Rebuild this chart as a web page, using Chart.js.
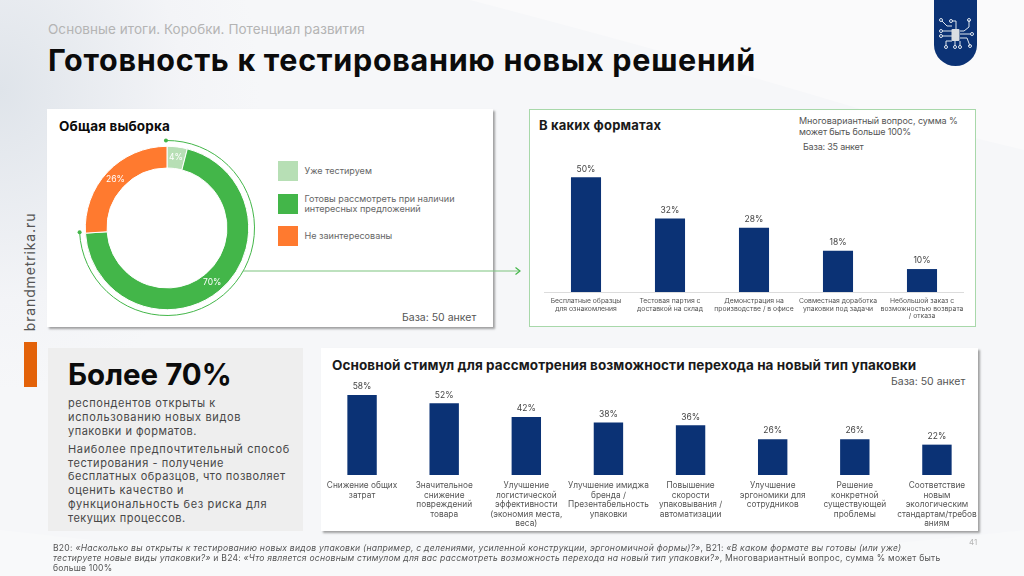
<!DOCTYPE html>
<html lang="ru">
<head>
<meta charset="utf-8">
<title>Готовность к тестированию новых решений</title>
<script src="https://cdn.jsdelivr.net/npm/chart.js@4"></script>
<style>
html, body { margin: 0; padding: 0; }
body {
    position: relative; width: 1024px; height: 576px; overflow: hidden;
    font-family: Inter, "Noto Sans", sans-serif; color: #444;
    background: radial-gradient(ellipse 260px 300px at 0 90px, #dfe4ea 0%, #f3f4f7 70%, #f6f7f9 100%);
}
.swoosh { position: absolute; left: 0; top: 0; }
.t { position: absolute; white-space: nowrap; transform: translateY(-50%); line-height: 1; }
.b { font-weight: 700; color: #0b0b0b; }
.panel { position: absolute; background: #fff; box-sizing: border-box; }
.shadow { box-shadow: 2px 2px 2px rgba(90,90,90,.55); }
canvas { position: absolute; }
.sw { position: absolute; left: 278px; width: 20px; height: 20px; }
.leg { font-size: 9.050px; color: #666; }
.tick { font-size: 11px; color: #474747; }
.note { font-size: 8.6px; color: #555; }
.note i { font-style: italic; }
</style>
</head>
<body>
<svg class="swoosh" width="1024" height="576">
    <path d="M470 0 Q700 60 880 115 L1024 150 L1024 0 Z" fill="#fafafb"/>
    <path d="M0 576 L0 530 Q500 590 1024 530 L1024 576 Z" fill="#f8f9fa"/>
</svg>

<div class="t" style="left:48px;top:30px;font-size:13.500px;color:#b4b4b4" data-w="317">Основные итоги. Коробки. Потенциал развития</div>
<div class="t b" style="left:48px;top:60px;font-size:30.500px" data-w="708">Готовность к тестированию новых решений</div>

<svg style="position:absolute;left:934px;top:0" width="43" height="66" viewBox="0 0 43 66">
    <path d="M0 0 H43 V45 A21.5 21 0 0 1 0 45 Z" fill="#0b3275"/>
    <g stroke="#dfe6ee" stroke-width="1" fill="none">
        <path d="M8 21 L13 26 H18 M8 31 H18 M8 36 H18 M12 46 V41 H18 M21 46 V41 M18 21 H22 V29 M35 20 V27 L30 31 H26 M26 34 H37 M26 38 H33 L36 46 M26 41 V46"/>
        <circle cx="7" cy="20" r="1.5"/><circle cx="7" cy="31" r="1.5"/><circle cx="7" cy="36" r="1.5"/>
        <circle cx="12" cy="47" r="1.5"/><circle cx="21" cy="47" r="1.5"/><circle cx="17" cy="21" r="1.5"/>
        <circle cx="35" cy="20" r="1.5"/><circle cx="38" cy="34" r="1.5"/><circle cx="36" cy="46" r="1.5"/><circle cx="26" cy="47" r="1.5"/>
    </g>
    <rect x="17.500" y="29" width="8" height="12" rx="1" fill="#d9dde2"/>
</svg>

<div class="t" style="left:30px;top:272px;font-size:14px;color:#555;transform:translate(-50%,-50%) rotate(-90deg)" data-w="119">brandmetrika.ru</div>
<div style="position:absolute;left:23.500px;top:342px;width:13px;height:45px;background:#e36209"></div>

<!-- панель 1 -->
<div class="panel shadow" style="left:47px;top:109px;width:446px;height:218px"></div>
<div class="t b" style="left:59px;top:127px;font-size:13.500px" data-w="111">Общая выборка</div>
<canvas id="donut" width="200" height="200" style="left:66.700px;top:127.700px;width:200px;height:200px"></canvas>
<div id="legend"></div>
<div class="t" style="left:402px;top:318px;font-size:10.500px;color:#555" data-w="74">База: 50 анкет</div>

<!-- панель 2 -->
<div class="panel" style="left:529px;top:109px;width:447px;height:218px;border:1px solid #a8d8aa"></div>
<div class="t b" style="left:539px;top:125px;font-size:13px;color:#1a1a1a" data-w="122">В каких форматах</div>
<div class="t" style="left:799px;top:120px;font-size:9px;color:#555" data-w="159">Многовариантный вопрос, сумма %</div>
<div class="t" style="left:799px;top:131px;font-size:9px;color:#555" data-w="112">может быть больше 100%</div>
<div class="t" style="left:803px;top:146px;font-size:9px;color:#555" data-w="61">База: 35 анкет</div>
<canvas id="formats" width="420" height="176" style="left:544px;top:150.300px;width:420px;height:176px"></canvas>

<!-- панель 3 -->
<div class="panel" style="left:48px;top:348px;width:255px;height:183px;background:#eeeeee"></div>
<div class="t b" style="left:68px;top:375px;font-size:29.500px" data-w="164">Более 70%</div>
<div class="t tick" style="left:68px;top:403.300px" data-w="148">респондентов открыты к</div>
<div class="t tick" style="left:68px;top:417.300px" data-w="173">использованию новых видов</div>
<div class="t tick" style="left:68px;top:431.300px" data-w="129">упаковки и форматов.</div>
<div class="t tick" style="left:68px;top:448.700px" data-w="222">Наиболее предпочтительный способ</div>
<div class="t tick" style="left:68px;top:462.500px" data-w="156">тестирования - получение</div>
<div class="t tick" style="left:68px;top:476.200px" data-w="218">бесплатных образцов, что позволяет</div>
<div class="t tick" style="left:68px;top:490px" data-w="116">оценить качество и</div>
<div class="t tick" style="left:68px;top:503.700px" data-w="199">функциональность без риска для</div>
<div class="t tick" style="left:68px;top:517.500px" data-w="118">текущих процессов.</div>

<div class="panel shadow" style="left:321px;top:348px;width:657px;height:183px"></div>
<div class="t b" style="left:332px;top:366px;font-size:13.500px;color:#1a1a1a" data-w="584">Основной стимул для рассмотрения возможности перехода на новый тип упаковки</div>
<div class="t" style="left:891px;top:381.500px;font-size:10.500px;color:#555" data-w="74">База: 50 анкет</div>
<canvas id="stimulus" width="657" height="153" style="left:320.600px;top:378px;width:657px;height:153px"></canvas>

<!-- стрелка от кольца к форматам -->
<svg style="position:absolute;left:0;top:0" width="1024" height="576">
    <path d="M243 271 H519" stroke="#7cc47f" stroke-width="1.200" fill="none"/>
    <path d="M515.500 267.500 L520 271 L515.500 274.500" stroke="#43b649" stroke-width="1.200" fill="none"/>
</svg>

<div class="t note" style="left:53px;top:547.500px" data-w="848">В20: <i>«Насколько вы открыты к тестированию новых видов упаковки (например, с делениями, усиленной конструкции, эргономичной формы)?»</i>, В21: <i>«В каком формате вы готовы (или уже)</i></div>
<div class="t note" style="left:53px;top:557.500px" data-w="887"><i>тестируете новые виды упаковки?»</i> и В24: <i>«Что является основным стимулом для вас рассмотреть возможность перехода на новый тип упаковки?»</i>, Многовариантный вопрос, сумма % может быть</div>
<div class="t note" style="left:53px;top:567.500px" data-w="59">больше 100%</div>
<div class="t" style="left:969px;top:542px;font-size:8px;color:#b5b5b5">41</div>

<script>
"use strict"

// кольцо: общая выборка
const sampleLabels = [['Уже тестируем'], ['Готовы рассмотреть при наличии', 'интересных предложений'], ['Не заинтересованы']];
const sampleValues = [4, 70, 26];
const sampleColors = ['#b7dfb5', '#43b649', '#ff7a2f'];

// столбцы: в каких форматах
const formatLabels = [
    ['Бесплатные образцы', 'для ознакомления'],
    ['Тестовая партия с', 'доставкой на склад'],
    ['Демонстрация на', 'производстве / в офисе'],
    ['Совместная доработка', 'упаковки под задачи'],
    ['Небольшой заказ с', 'возможностью возврата', '/ отказа']
];
const formatValues = [50, 32, 28, 18, 10];

// столбцы: основной стимул
const stimulusLabels = [
    ['Снижение общих', 'затрат'],
    ['Значительное', 'снижение', 'повреждений', 'товара'],
    ['Улучшение', 'логистической', 'эффективности', '(экономия места,', 'веса)'],
    ['Улучшение имиджа', 'бренда /', 'Презентабельность', 'упаковки'],
    ['Повышение', 'скорости', 'упаковывания /', 'автоматизации'],
    ['Улучшение', 'эргономики для', 'сотрудников'],
    ['Решение', 'конкретной', 'существующей', 'проблемы'],
    ['Соответствие', 'новым', 'экологическим', 'стандартам/требов', 'аниям']
];
const stimulusValues = [58, 52, 42, 38, 36, 26, 26, 22];

const barColor = '#0b3275';
const fontFamily = 'Inter, "Noto Sans", sans-serif';

// подгонка ширины текста под макет
document.querySelectorAll('.t[data-w]').forEach(function (el) {
    const extra = (+el.dataset.w - el.scrollWidth) / el.textContent.length;
    el.style.letterSpacing = extra.toFixed(3) + 'px';
});

// легенда
const legendTops = [161, 194, 226];
sampleLabels.forEach(function (lines, i) {
    const legend = document.getElementById('legend');
    legend.insertAdjacentHTML('beforeend',
        `<div class="sw" style="top:${legendTops[i]}px;background:${sampleColors[i]}"></div>`);
    lines.forEach(function (line, j) {
        const top = legendTops[i] + 10 + (j - (lines.length - 1) / 2) * 10;
        legend.insertAdjacentHTML('beforeend',
            `<div class="t leg" style="left:304.500px;top:${top}px">${line}</div>`);
    });
});

// подписи значений над столбцами
const barValuePlugin = {
    id: 'barValue',
    afterDatasetsDraw(chart) {
        const ctx = chart.ctx;
        const meta = chart.getDatasetMeta(0);
        ctx.save();
        ctx.font = chart.options.plugins.barValue.size + 'px ' + fontFamily;
        ctx.fillStyle = '#444';
        ctx.textAlign = 'center';
        ctx.textBaseline = 'bottom';
        meta.data.forEach(function (bar, i) {
            ctx.fillText(chart.data.datasets[0].data[i] + '%', bar.x, bar.y - 4);
        });
        ctx.restore();
    }
};

// подписи на кольце и тонкая дуга снаружи
const donutPlugin = {
    id: 'donutMarks',
    afterDatasetsDraw(chart) {
        const ctx = chart.ctx;
        const meta = chart.getDatasetMeta(0);
        const first = meta.data[0];
        const r = first.outerRadius + 5.800;
        const start = -Math.PI / 2 - 0.012;
        const end = meta.data[1].endAngle + 0.015;

        ctx.save();
        ctx.strokeStyle = '#43b649';
        ctx.lineWidth = 1;
        ctx.beginPath();
        ctx.arc(first.x, first.y, r, start, end);
        ctx.stroke();
        ctx.fillStyle = '#43b649';
        [start, end].forEach(function (a) {
            ctx.beginPath();
            ctx.arc(first.x + r * Math.cos(a), first.y + r * Math.sin(a), 2, 0, Math.PI * 2);
            ctx.fill();
        });

        ctx.font = '8.500px ' + fontFamily;
        ctx.fillStyle = '#fff';
        ctx.textAlign = 'center';
        ctx.textBaseline = 'middle';
        meta.data.forEach(function (arc, i) {
            const p = arc.getCenterPoint();
            ctx.fillText(sampleValues[i] + '%', p.x, p.y);
        });
        ctx.restore();
    }
};

new Chart(document.getElementById('donut'), {
    type: 'doughnut',
    plugins: [donutPlugin],
    data: {
        labels: sampleLabels.map(l => l.join(' ')),
        datasets: [{
            data: sampleValues,
            backgroundColor: sampleColors,
            borderColor: '#fff',
            borderWidth: 1
        }]
    },
    options: {
        responsive: false,
        animation: false,
        radius: 81.700,
        cutout: '73.400%',
        plugins: { legend: { display: false }, tooltip: { enabled: false } }
    }
});

function makeBars(id, labels, values, yMax, axisHeight, fontSize, valueSize, lineColor, tickPad, lineHeight) {
    return new Chart(document.getElementById(id), {
        type: 'bar',
        plugins: [barValuePlugin],
        data: {
            labels: labels,
            datasets: [{ data: values, backgroundColor: barColor, categoryPercentage: 1, barPercentage: 0.358 }]
        },
        options: {
            responsive: false,
            animation: false,
            layout: { padding: 0 },
            plugins: { legend: { display: false }, tooltip: { enabled: false }, barValue: { size: valueSize } },
            scales: {
                y: { display: false, min: 0, max: yMax },
                x: {
                    grid: { display: false, drawTicks: false },
                    border: { display: true, color: lineColor },
                    // подписи шире столбца, отступы по краям не нужны
                    afterFit(scale) {
                        scale.height = axisHeight;
                        scale.paddingLeft = 0;
                        scale.paddingRight = 0;
                    },
                    ticks: {
                        autoSkip: false, maxRotation: 0, minRotation: 0, padding: tickPad,
                        color: '#555',
                        font: { family: fontFamily, size: fontSize, lineHeight: lineHeight }
                    }
                }
            }
        }
    });
}

makeBars('formats', formatLabels, formatValues, 61.870, 34, 6.800, 8.500, '#dcdcdc', 5, 1.130);
makeBars('stimulus', stimulusLabels, stimulusValues, 70.300, 56, 8.300, 8.500, 'rgba(0,0,0,0)', 6, 1.140);
</script>
</body>
</html>
